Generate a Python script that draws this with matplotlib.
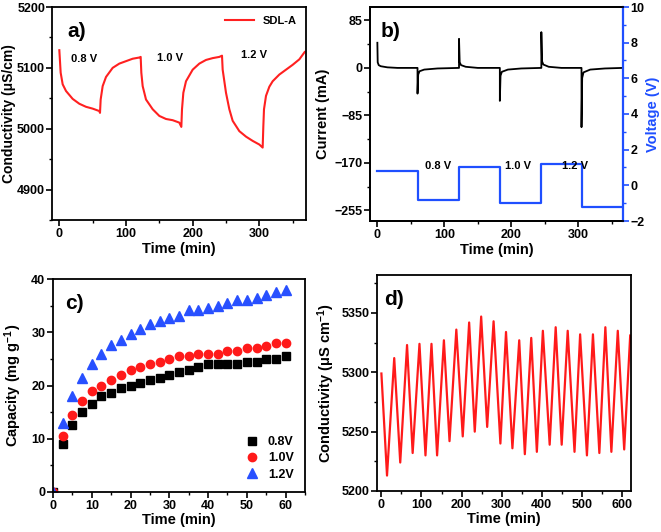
import numpy as np
import matplotlib
matplotlib.use('Agg')
import matplotlib.pyplot as plt
from matplotlib.ticker import AutoMinorLocator

plt.rcParams['font.family'] = ['Liberation Sans', 'DejaVu Sans']
plt.rcParams['font.weight'] = 'bold'
plt.rcParams['axes.labelweight'] = 'bold'
plt.rcParams['mathtext.fontset'] = 'custom'
plt.rcParams['mathtext.rm'] = 'Liberation Sans:bold'
plt.rcParams['mathtext.default'] = 'rm'
plt.rcParams['axes.linewidth'] = 1.3

# a) conductivity vs time (SDL-A)
a_time = [0, 2, 5, 10, 20, 30, 40, 50, 60, 61,
          62, 65, 70, 80, 90, 100, 110, 120, 122,
          123, 125, 130, 140, 150, 160, 170, 180, 183,
          184, 186, 190, 200, 210, 220, 230, 240, 244,
          245, 250, 255, 260, 270, 280, 290, 300, 305,
          306, 307, 310, 315, 320, 330, 340, 350, 360, 368]
a_cond = [5129, 5092, 5073, 5062, 5049, 5041, 5036, 5033, 5029, 5026,
          5048, 5070, 5085, 5100, 5107, 5111, 5115, 5117, 5118,
          5092, 5070, 5048, 5032, 5021, 5016, 5014, 5010, 5003,
          5032, 5059, 5078, 5097, 5107, 5113, 5116, 5118, 5120,
          5097, 5059, 5032, 5013, 4996, 4987, 4980, 4974, 4969,
          5004, 5032, 5054, 5069, 5078, 5089, 5097, 5105, 5114, 5126]

# b) current and applied voltage
b_cur_t = [0, 0.5, 2, 5, 15, 30, 60, 60, 61, 63, 70, 90, 122,
           122, 123, 125, 132, 150, 183, 183, 184, 186, 195, 215, 245,
           245, 246, 248, 256, 275, 305, 305, 306, 308, 318, 340, 367]
b_current = [45, 10, 5, 3, 1, 0, 0, -46, -12, -6, -3, -1, 0,
             52, 10, 5, 2, 0, 0, -59, -14, -7, -3, -1, 0,
             64, 12, 6, 2, 0, 0, -106, -18, -8, -3, -1, 0]
b_volt_t = [0, 60, 60, 122, 122, 183, 183, 245, 245, 305, 305, 367]
b_volt = [0.8, 0.8, -0.8, -0.8, 1.0, 1.0, -1.0, -1.0, 1.2, 1.2, -1.2, -1.2]

# c) capacity vs time
c_time = [0, 2.5, 5, 7.5, 10, 12.5, 15, 17.5, 20, 22.5, 25, 27.5, 30,
          32.5, 35, 37.5, 40, 42.5, 45, 47.5, 50, 52.5, 55, 57.5, 60]
c_08 = [0, 9, 12.5, 15, 16.5, 18, 18.5, 19.5, 20, 20.5, 21, 21.5, 22,
        22.5, 23, 23.5, 24, 24, 24, 24, 24.5, 24.5, 25, 25, 25.5]
c_10 = [0, 10.5, 14.5, 17, 19, 20, 21, 22, 23, 23.5, 24, 24.5, 25,
        25.5, 25.5, 26, 26, 26, 26.5, 26.5, 27, 27, 27.5, 28, 28]
c_12 = [0, 13, 18, 21.5, 24, 26, 27.6, 28.6, 29.6, 30.6, 31.6, 32.1, 32.6,
        33.1, 34.1, 34.1, 34.5, 35, 35.5, 36, 36, 36.5, 37, 37.5, 38]

# d) cycling: peaks and troughs
d_time = [0, 14, 32, 47, 64, 78, 95, 110, 125, 139, 156, 170, 187, 203,
          219, 233, 249, 264, 280, 297, 311, 327, 344, 358, 374, 388, 403,
          420, 435, 450, 465, 482, 496, 513, 528, 544, 559, 574, 590, 606, 621]
d_cond = [5299, 5213, 5312, 5224, 5323, 5232, 5324, 5230, 5324, 5230, 5327,
          5242, 5336, 5246, 5342, 5250, 5347, 5254, 5343, 5240, 5334, 5236,
          5327, 5231, 5329, 5233, 5335, 5239, 5338, 5239, 5335, 5233, 5332,
          5230, 5332, 5232, 5338, 5233, 5335, 5235, 5331]

W, H = 661, 532
fig = plt.figure(figsize=(W / 100, H / 100), dpi=100)


def box(l, r, t, b):
    return [l / W, 1 - b / H, (r - l) / W, (b - t) / H]


def style(ax):
    ax.tick_params(direction='out', width=1.2, length=4, labelsize=9, pad=1.5)
    ax.tick_params(which='minor', direction='out', width=1, length=2.5)
    ax.xaxis.set_minor_locator(AutoMinorLocator(2))
    ax.yaxis.set_minor_locator(AutoMinorLocator(2))


LAB = 10.5
LET = 15

# panel a
ax = fig.add_axes(box(52, 306, 7, 220))
ax.plot(a_time, a_cond, color='#ff2020', lw=1.5, label='SDL-A')
ax.set_xlim(-11, 370)
ax.set_ylim(4850, 5200)
ax.set_xticks([0, 100, 200, 300])
ax.set_yticks([4900, 5000, 5100, 5200])
style(ax)
ax.tick_params(axis='y', pad=1)
ax.set_xlabel('Time (min)', fontsize=LAB, labelpad=2)
ax.set_ylabel('Conductivity (μS/cm)', fontsize=10, labelpad=1)
ax.legend(loc='upper right', frameon=False, fontsize=8, handlelength=2.6,
          borderaxespad=0.4)
ax.text(0.06, 0.93, 'a)', transform=ax.transAxes, fontsize=LET, va='top')
ax.text(18, 5114, '0.8 V', fontsize=8, va='center')
ax.text(146, 5116, '1.0 V', fontsize=8, va='center')
ax.text(272, 5121, '1.2 V', fontsize=8, va='center')

# panel b
ax = fig.add_axes(box(370, 623, 7, 221))
ax.plot(b_cur_t, b_current, color='black', lw=1.3)
ax.set_xlim(-11, 367)
ax.set_ylim(-274, 109)
ax.set_xticks([0, 100, 200, 300])
ax.set_yticks([85, 0, -85, -170, -255])
style(ax)
ax.set_xlabel('Time (min)', fontsize=LAB, labelpad=2)
ax.set_ylabel('Current (mA)', fontsize=LAB, labelpad=3)
ax.text(0.04, 0.93, 'b)', transform=ax.transAxes, fontsize=LET, va='top')
ax2 = ax.twinx()
ax2.plot(b_volt_t, b_volt, color='#1f4fff', lw=1.6)
ax2.set_ylim(-2, 10)
ax2.set_yticks([-2, 0, 2, 4, 6, 8, 10])
ax2.yaxis.set_minor_locator(AutoMinorLocator(2))
ax2.tick_params(direction='out', width=1.2, length=4, labelsize=9, pad=1.5,
                colors='#1f4fff', labelcolor='black')
ax2.tick_params(which='minor', direction='out', width=1, length=2.5, colors='#1f4fff')
ax2.spines['right'].set_color('#1f4fff')
ax2.spines['right'].set_linewidth(1.6)
ax2.set_ylabel('Voltage (V)', fontsize=LAB, color='#1f4fff', labelpad=1)
ax2.text(71, 1.1, '0.8 V', fontsize=8, va='center')
ax2.text(191, 1.1, '1.0 V', fontsize=8, va='center')
ax2.text(276, 1.1, '1.2 V', fontsize=8, va='center')

# panel c
ax = fig.add_axes(box(53, 305, 279, 492))
ax.plot(c_time, c_08, 's', color='black', ms=5.5, label='0.8V')
ax.plot(c_time, c_10, 'o', color='#ff1a1a', ms=6, label='1.0V')
ax.plot(c_time, c_12, '^', color='#2850ff', ms=6.5, label='1.2V')
ax.set_xlim(0, 65)
ax.set_ylim(0, 40)
ax.set_xticks([0, 10, 20, 30, 40, 50, 60])
ax.set_yticks([0, 10, 20, 30, 40])
style(ax)
ax.set_xlabel('Time (min)', fontsize=LAB, labelpad=1)
ax.set_ylabel('Capacity (mg g$^{-1}$)', fontsize=LAB, labelpad=5)
ax.legend(loc='lower right', frameon=False, fontsize=9, handlelength=1,
          handletextpad=0.8, labelspacing=0.35, borderaxespad=0.5)
ax.text(0.05, 0.93, 'c)', transform=ax.transAxes, fontsize=LET, va='top')

# panel d
ax = fig.add_axes(box(377, 631, 275, 491))
ax.plot(d_time, d_cond, color='#ff1a1a', lw=1.6)
ax.set_xlim(-11, 623)
ax.set_ylim(5200, 5382)
ax.set_xticks([0, 100, 200, 300, 400, 500, 600])
ax.set_yticks([5200, 5250, 5300, 5350])
style(ax)
ax.set_xlabel('Time (min)', fontsize=LAB, labelpad=1)
ax.set_ylabel('Conductivity (μS cm$^{-1}$)', fontsize=LAB, labelpad=3)
ax.text(0.03, 0.93, 'd)', transform=ax.transAxes, fontsize=LET, va='top')

fig.savefig('out.png', dpi=100)
